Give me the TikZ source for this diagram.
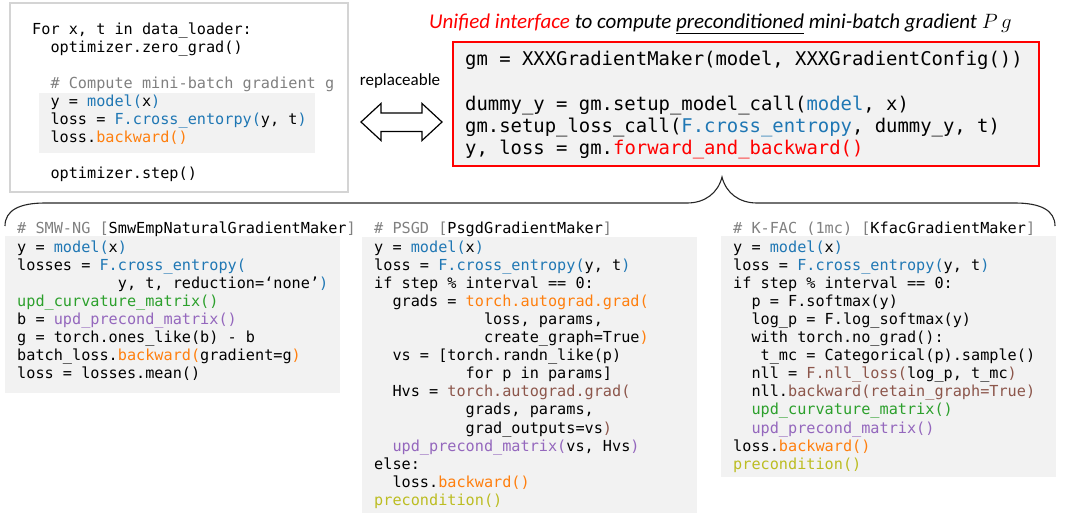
\documentclass[tikz,border=0pt]{standalone}
\usepackage{fontspec}
\setmainfont{Carlito}
\newfontfamily\codefont{DejaVu Sans Mono}
\definecolor{cblue}{HTML}{1F77B4}
\definecolor{corange}{HTML}{FF7F0E}
\definecolor{cgreen}{HTML}{2CA02C}
\definecolor{cpurple}{HTML}{9467BD}
\definecolor{cbrown}{HTML}{8C564B}
\definecolor{colive}{HTML}{BCBD22}
\definecolor{cgray}{HTML}{808080}
\definecolor{cred}{HTML}{FF0000}
\definecolor{panelgray}{HTML}{F2F2F2}
\definecolor{boxgray}{HTML}{D4D4D4}
\newcommand\Cblue[1]{\textcolor{cblue}{#1}}
\newcommand\Corange[1]{\textcolor{corange}{#1}}
\newcommand\Cgreen[1]{\textcolor{cgreen}{#1}}
\newcommand\Cpurple[1]{\textcolor{cpurple}{#1}}
\newcommand\Cbrown[1]{\textcolor{cbrown}{#1}}
\newcommand\Colive[1]{\textcolor{colive}{#1}}
\newcommand\Cgray[1]{\textcolor{cgray}{#1}}
\newcommand\Cred[1]{\textcolor{cred}{#1}}
\newcommand\idt[1]{\hspace*{#1\fontcharwd\font`x}}
\newcommand\csmall{\codefont\fontsize{15.2}{18}\selectfont}
\newcommand\cbig{\codefont\fontsize{18.9}{22}\selectfont}
\begin{document}
\begin{tikzpicture}[x=1pt,y=-1pt,
  codeline/.style={anchor=base west, inner sep=0pt, font=\csmall},
  bigline/.style={anchor=base west, inner sep=0pt, font=\cbig},
  panelbg/.style={fill=panelgray, draw=none}]
\useasboundingbox (0,0) rectangle (1065,514);

% ---------- top-left loop box ----------
\draw[boxgray, line width=1.5pt] (10,3) rectangle (348,192);
\fill[panelgray] (39,93) rectangle (315,153);
\node[codeline] (t1) at (32,34) {For x, t in data\_loader:};
\node[codeline] (t2) at (32,52) {\idt{2}optimizer.zero\_grad()};
\node[codeline] (t3) at (32,88) {\idt{2}\Cgray{\# Compute mini-batch gradient g}};
\node[codeline] (t4) at (32,106) {\idt{2}y = \Cblue{model(}x\Cblue{)}};
\node[codeline] (t5) at (32,124) {\idt{2}loss = \Cblue{F.cross\_entorpy(}y, t\Cblue{)}};
\node[codeline] (t6) at (32,142) {\idt{2}loss.\Corange{backward()}};
\node[codeline] (t7) at (32,178) {\idt{2}optimizer.step()};

% ---------- replaceable arrow ----------
\node[inner sep=0pt, font=\fontsize{17}{20}\selectfont] (repl) at (400,81) {replaceable};
\draw[black, line width=1.2pt, fill=white, line join=miter]
  (361,122) -- (381,103.5) -- (381,113) -- (422,113) -- (422,103.5) -- (442,122)
  -- (422,140.5) -- (422,131.5) -- (381,131.5) -- (381,140.5) -- cycle;

% ---------- title ----------
\node[anchor=base west, inner sep=0pt, font=\fontsize{21}{24}\selectfont\itshape] (title) at (429,28)
  {\Cred{Unified interface} to compute \underline{preconditioned} mini-batch gradient $P\,g$};

% ---------- unified interface box ----------
\draw[cred, line width=2.5pt, fill=panelgray] (453,42) rectangle (1039,166);
\node[bigline] (g1) at (465,65) {gm = XXXGradientMaker(model, XXXGradientConfig())};
\node[bigline] (g2) at (465,110) {dummy\_y = gm.setup\_model\_call(\Cblue{model}, x)};
\node[bigline] (g3) at (465,132) {gm.setup\_loss\_call(\Cblue{F.cross\_entropy}, dummy\_y, t)};
\node[bigline] (g4) at (465,154) {y, loss = gm.\Cred{forward\_and\_backward()}};

% ---------- brace ----------
\coordinate (tip) at (722,177);
\coordinate (bl) at (5,226);
\coordinate (br) at (1055,226);
\draw[black!85, line width=1.1pt]
  (bl) .. controls (5,210) and (20,203) .. (45,203) -- (687,203)
  .. controls (705,203) and (718,193) .. (tip)
  .. controls (726,193) and (739,203) .. (757,203) -- (1015,203)
  .. controls (1040,203) and (1055,210) .. (br);

% ---------- panel 1: SMW-NG ----------
\fill[panelgray] (5,236) rectangle (340,393);
\node[codeline] (a0) at (17,233) {\Cgray{\# SMW-NG [}SmwEmpNaturalGradientMaker\Cgray{]}};
\node[codeline] (a1) at (17,252) {y = \Cblue{model(}x\Cblue{)}};
\node[codeline] (a2) at (17,270) {losses = \Cblue{F.cross\_entropy(}};
\node[codeline] (a3) at (17,288) {\idt{11}y, t, reduction=‘none’\Cblue{)}};
\node[codeline] (a4) at (17,306) {\Cgreen{upd\_curvature\_matrix()}};
\node[codeline] (a5) at (17,324) {b = \Cpurple{upd\_precond\_matrix()}};
\node[codeline] (a6) at (17,342) {g = torch.ones\_like(b) - b};
\node[codeline] (a7) at (17,360) {batch\_loss.\Corange{backward(}gradient=g\Corange{)}};
\node[codeline] (a8) at (17,378) {loss = losses.mean()};

% ---------- panel 2: PSGD ----------
\fill[panelgray] (362,237) rectangle (697,513);
\node[codeline] (b0) at (374,233) {\Cgray{\# PSGD [}PsgdGradientMaker\Cgray{]}};
\node[codeline] (b1) at (374,252) {y = \Cblue{model(}x\Cblue{)}};
\node[codeline] (b2) at (374,270.1) {loss = \Cblue{F.cross\_entropy(}y, t\Cblue{)}};
\node[codeline] (b3) at (374,288.2) {if step \% interval == 0:};
\node[codeline] (b4) at (374,306.3) {\idt{2}grads = \Corange{torch.autograd.grad(}};
\node[codeline] (b5) at (374,324.4) {\idt{12}loss, params,};
\node[codeline] (b6) at (374,342.5) {\idt{12}create\_graph=True\Corange{)}};
\node[codeline] (b7) at (374,360.6) {\idt{2}vs = [torch.randn\_like(p)};
\node[codeline] (b8) at (374,378.7) {\idt{10}for p in params]};
\node[codeline] (b9) at (374,396.8) {\idt{2}Hvs = \Cbrown{torch.autograd.grad(}};
\node[codeline] (b10) at (374,414.9) {\idt{10}grads, params,};
\node[codeline] (b11) at (374,433) {\idt{10}grad\_outputs=vs\Cbrown{)}};
\node[codeline] (b12) at (374,451.1) {\idt{2}\Cpurple{upd\_precond\_matrix(}vs, Hvs\Cpurple{)}};
\node[codeline] (b13) at (374,469.2) {else:};
\node[codeline] (b14) at (374,487.3) {\idt{2}loss.\Corange{backward()}};
\node[codeline] (b15) at (374,505.4) {\Colive{precondition()}};

% ---------- panel 3: K-FAC ----------
\fill[panelgray] (721,236) rectangle (1056,477);
\node[codeline] (c0) at (733,233) {\Cgray{\# K-FAC (1mc) [}KfacGradientMaker\Cgray{]}};
\node[codeline] (c1) at (733,252) {y = \Cblue{model(}x\Cblue{)}};
\node[codeline] (c2) at (733,270.1) {loss = \Cblue{F.cross\_entropy(}y, t\Cblue{)}};
\node[codeline] (c3) at (733,288.2) {if step \% interval == 0:};
\node[codeline] (c4) at (733,306.3) {\idt{2}p = F.softmax(y)};
\node[codeline] (c5) at (733,324.4) {\idt{2}log\_p = F.log\_softmax(y)};
\node[codeline] (c6) at (733,342.5) {\idt{2}with torch.no\_grad():};
\node[codeline] (c7) at (733,360.6) {\idt{3}t\_mc = Categorical(p).sample()};
\node[codeline] (c8) at (733,378.7) {\idt{2}nll = \Cbrown{F.nll\_loss(}log\_p, t\_mc\Cbrown{)}};
\node[codeline] (c9) at (733,396.8) {\idt{2}nll.\Cbrown{backward(retain\_graph=True)}};
\node[codeline] (c10) at (733,414.9) {\idt{2}\Cgreen{upd\_curvature\_matrix()}};
\node[codeline] (c11) at (733,433) {\idt{2}\Cpurple{upd\_precond\_matrix()}};
\node[codeline] (c12) at (733,451.1) {loss.\Corange{backward()}};
\node[codeline] (c13) at (733,469.2) {\Colive{precondition()}};
\end{tikzpicture}
\end{document}
